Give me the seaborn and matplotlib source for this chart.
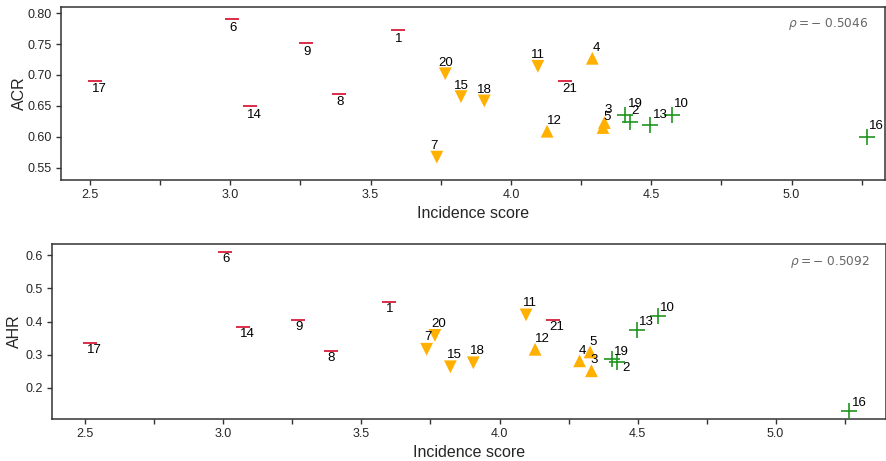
import numpy as np
import pandas as pd
import matplotlib
matplotlib.use("Agg")
import matplotlib.pyplot as plt
from matplotlib.ticker import MultipleLocator, FormatStrFormatter
import seaborn as sns

# ---------------- data ----------------
ids = [1, 2, 3, 4, 5, 6, 7, 8, 9, 10, 11, 12, 13, 14, 15, 16, 17, 18, 19, 20, 21]
incidence = [3.598, 4.425, 4.333, 4.290, 4.328, 3.007, 3.736, 3.388, 3.271, 4.573,
             4.096, 4.129, 4.497, 3.070, 3.822, 5.267, 2.517, 3.905, 4.407, 3.766, 4.192]
acr = [0.772, 0.624, 0.623, 0.727, 0.615, 0.790, 0.567, 0.670, 0.751, 0.636,
       0.714, 0.609, 0.619, 0.649, 0.665, 0.600, 0.691, 0.658, 0.636, 0.702, 0.691]
ahr = [0.459, 0.276, 0.251, 0.281, 0.308, 0.610, 0.316, 0.312, 0.404, 0.418,
       0.420, 0.316, 0.375, 0.384, 0.263, 0.130, 0.336, 0.275, 0.286, 0.358, 0.405]
group = ["dash", "plus", "up", "up", "up", "dash", "down", "dash", "dash", "plus",
         "down", "up", "plus", "dash", "down", "plus", "dash", "down", "plus", "down", "dash"]
rho_acr = "0.5046"
rho_ahr = "0.5092"

df = pd.DataFrame({"id": ids, "Incidence score": incidence, "ACR": acr,
                   "AHR": ahr, "group": group})

# ---------------- styles ----------------
marker_styles = {
    "dash": dict(marker="_", s=115, color="#d81e3c", linewidth=1.3),
    "down": dict(marker="v", s=85, color="#ffb000", edgecolor="none", linewidth=0),
    "up":   dict(marker="^", s=85, color="#ffb000", edgecolor="none", linewidth=0),
    "plus": dict(marker="+", s=130, color="#1f961f", linewidth=1.2),
}
group_order = ["dash", "down", "up", "plus"]

# label offsets (pixels, ha='left', va='center')
label_offsets = {
    "ACR": {"dash": (-3, -8.3), "down": (-7, 11), "up": (0, 10.5), "plus": (2.5, 10.5)},
    "AHR": {"dash": (-3, -7.3), "down": (-3.2, 11.7), "up": (-0.5, 10.3), "plus": (2.5, 7.3)},
}
label_overrides = {
    "ACR": {7: (-6.5, 11.3), 3: (0, 12.6), 2: (1.5, 11)},
    "AHR": {7: (-2.5, 12), 2: (5, -5.6), 11: (-3, 12.3)},
}

sns.set_theme(style="ticks")
plt.rcParams["font.family"] = ["Liberation Sans", "DejaVu Sans"]
plt.rcParams["mathtext.fontset"] = "dejavusans"

fig = plt.figure(figsize=(8.87, 4.61), dpi=100)
ax_top = fig.add_axes([0.0688, 0.6095, 0.9290, 0.3753])
ax_bot = fig.add_axes([0.0586, 0.0911, 0.9403, 0.3796])

panels = [
    (ax_top, "ACR", rho_acr, (2.397, 5.333), (0.530, 0.810), 0.05, "%.2f", -0.041),
    (ax_bot, "AHR", rho_ahr, (2.379, 5.400), (0.105, 0.6345), 0.1, "%.1f", -0.036),
]

for ax, ycol, rho, xlim, ylim, ystep, yfmt, ylab_x in panels:
    for g in group_order:
        sub = df[df["group"] == g]
        sns.scatterplot(data=sub, x="Incidence score", y=ycol, ax=ax,
                        legend=False, zorder=3 if g != "plus" else 4,
                        **marker_styles[g])
    for _, row in df.iterrows():
        off = label_overrides[ycol].get(row["id"], label_offsets[ycol][row["group"]])
        ax.annotate(str(row["id"]), (row["Incidence score"], row[ycol]),
                    xytext=off, textcoords="offset pixels",
                    ha="left", va="center", fontsize=9.5, color="black", zorder=5)
    ax.set_xlim(*xlim)
    ax.set_ylim(*ylim)
    ax.xaxis.set_major_locator(MultipleLocator(0.5))
    ax.xaxis.set_minor_locator(MultipleLocator(0.25))
    ax.xaxis.set_major_formatter(FormatStrFormatter("%.1f"))
    ax.yaxis.set_major_locator(MultipleLocator(ystep))
    ax.yaxis.set_major_formatter(FormatStrFormatter(yfmt))
    ax.tick_params(axis="both", which="both", direction="out", length=3.8,
                   width=1.0, color="#333333", labelsize=9, pad=3)
    for sp in ax.spines.values():
        sp.set_color("#333333")
        sp.set_linewidth(1.1)
    ax.set_ylabel(ycol, fontsize=11.5)
    ax.yaxis.set_label_coords(ylab_x, 0.5)
    ax.set_xlabel("Incidence score", fontsize=11.5, labelpad=3)
    ax.text(0.98, 0.90, r"$\rho = -\ %s$" % rho, transform=ax.transAxes,
            ha="right", va="center", fontsize=8.7, color="#666666")

fig.savefig("out.png", dpi=100)
